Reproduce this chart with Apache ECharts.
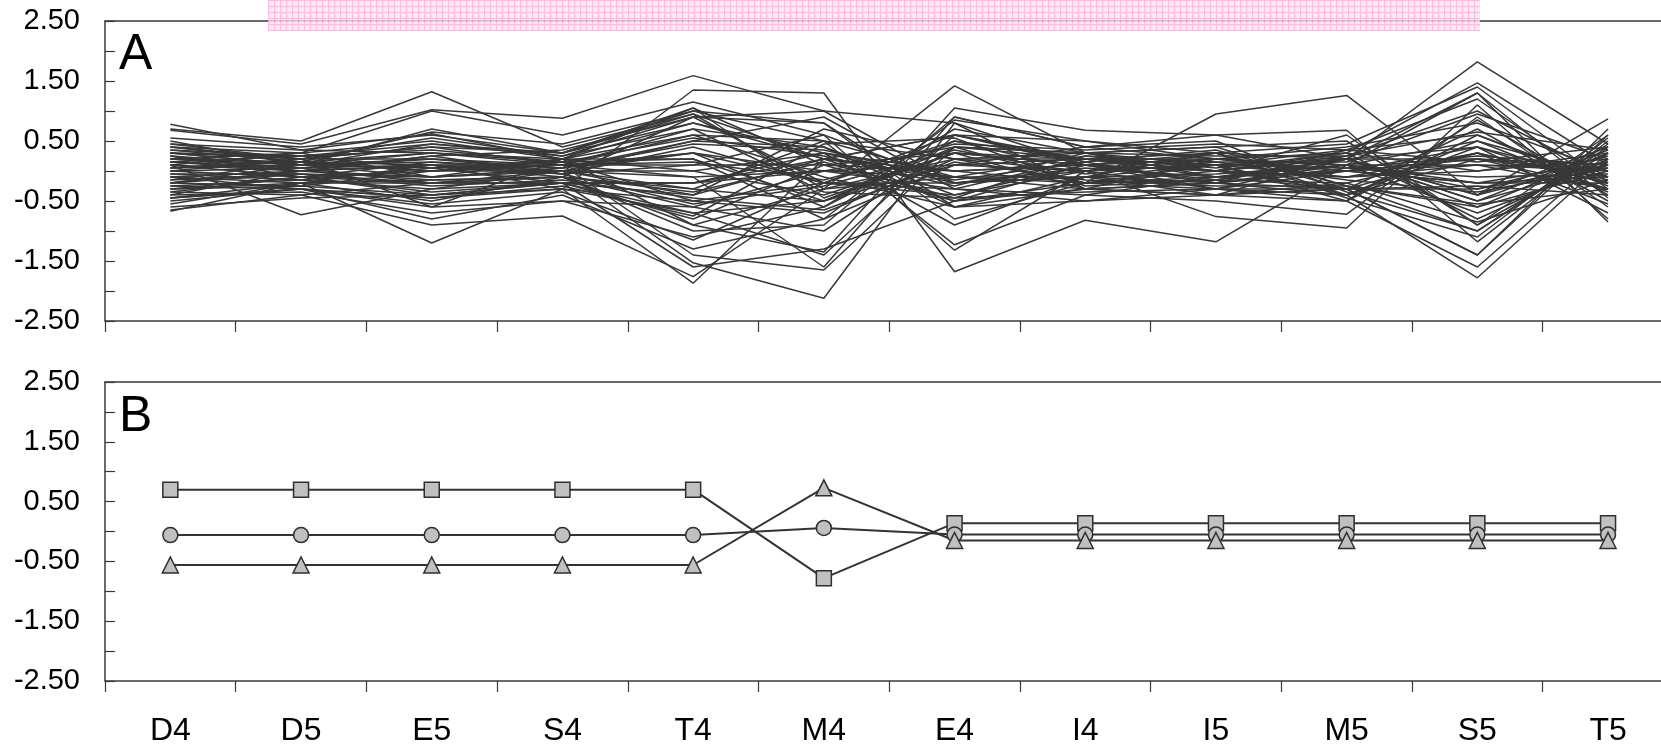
<!DOCTYPE html>
<html>
<head>
<meta charset="utf-8">
<script src="https://cdn.jsdelivr.net/npm/echarts@6/dist/echarts.min.js"></script>
<style>
html,body{margin:0;padding:0;background:#fff;overflow:hidden;width:1661px;height:748px;}
#chart{width:1720px;height:748px;}
</style>
</head>
<body>
<div id="chart"></div>
<script>
// ---- data ----
const categories = ['D4','D5','E5','S4','T4','M4','E4','I4','I5','M5','S5','T5'];
const yTicks = [-2.5, -1.5, -0.5, 0.5, 1.5, 2.5];

// Panel A: individual profiles (values read/estimated from the picture)
const a01 = [0.78, 0.35, 0.62, 0.20, 1.05, -0.45, 0.30, 0.10, -0.15, 0.20, 1.82, 0.45];
const a02 = [0.70, 0.50, 1.32, 0.40, 0.95, -0.30, -0.10, 0.25, 0.05, 0.30, 1.47, 0.10];
const a03 = [0.68, 0.45, 1.02, 0.88, 1.59, 1.00, -0.20, -0.10, 0.30, 0.45, 1.40, -0.20];
const a04 = [-0.67, -0.20, -1.20, -0.30, -1.87, 0.20, 0.60, 0.10, -0.30, -0.40, -1.78, 0.20];
const a05 = [-0.65, -0.40, -0.90, -0.75, -1.76, -0.30, 1.42, 0.30, 0.10, -0.50, -1.60, 0.30];
const a06 = [0.10, -0.73, -0.30, 0.00, -1.53, -2.12, 0.80, 0.10, -0.20, -0.30, -1.40, 0.60];
const a07 = [0.30, 0.20, 0.40, 0.10, -1.40, -1.65, 0.40, -0.20, 0.95, 1.26, -0.40, 0.87];
const a08 = [-0.20, 0.00, 0.10, -0.30, 1.35, 1.30, -1.68, -0.82, -1.18, 0.10, 1.30, -0.85];
const a09 = [0.40, 0.30, 1.00, 0.60, 1.15, 0.60, -1.32, 0.00, -0.76, -0.95, 1.10, -0.80];
const a10 = [-0.50, -0.30, -0.60, 0.20, -0.90, -1.35, 1.05, 0.68, 0.60, 0.68, -1.18, 0.50];
const a11 = [0.20, 0.10, 0.70, 0.30, 1.00, 0.50, -1.23, -0.40, -0.50, -0.72, 0.90, -0.60];
const a12 = [-0.30, -0.20, -0.50, -0.10, -1.00, -0.90, 0.90, 0.40, 0.50, -0.35, -1.00, 0.40];
const a13 = [0.55, 0.40, 0.60, 0.30, 0.95, 0.20, -0.50, -0.30, -0.20, 0.35, 1.20, -0.30];
const a14 = [0.45, 0.20, 0.55, 0.25, 0.90, -0.20, -0.40, 0.10, 0.00, 0.25, 1.00, -0.10];
const a15 = [0.35, 0.15, 0.65, 0.45, 1.00, 0.80, -0.80, -0.20, -0.30, -0.50, 0.85, -0.40];
const a16 = [-0.40, -0.35, -0.70, -0.50, -1.10, -0.60, 0.70, 0.30, 0.40, 0.50, -0.90, 0.30];
const a17 = [-0.45, -0.30, -0.80, -0.40, -1.30, -0.80, 0.85, 0.50, 0.30, -0.45, -1.10, 0.55];
const a18 = [-0.35, -0.10, -0.40, -0.20, -0.70, -1.40, 0.60, 0.20, 0.20, 0.30, -0.80, 0.20];
const a19 = [0.25, 0.10, 0.30, 0.10, 0.70, 0.40, -0.60, -0.30, -0.40, -0.30, 0.70, -0.50];
const a20 = [0.15, 0.05, 0.20, 0.05, 0.50, 0.90, -0.30, -0.50, -0.30, 0.20, 0.40, -0.30];
const a21 = [-0.10, 0.00, -0.10, 0.00, -0.40, 0.70, 0.20, -0.20, 0.00, -0.10, 0.30, -0.20];
const a22 = [0.05, 0.10, 0.15, 0.05, 0.30, -0.60, 0.50, 0.20, 0.10, 0.20, -0.50, 0.10];
const a23 = [-0.05, -0.05, -0.20, -0.10, -0.60, -1.00, 0.40, 0.30, 0.40, -0.25, -0.60, 0.30];
const a24 = [0.20, 0.30, 0.50, 0.20, 0.80, 0.30, -0.90, -0.10, -0.40, -0.50, 0.60, -0.20];
const a25 = [0.30, 0.25, 0.35, 0.15, 0.20, -0.50, 0.10, 0.40, 0.20, 0.00, 0.20, 0.00];
const a26 = [-0.25, -0.15, -0.30, -0.20, -0.20, 0.30, -0.20, -0.10, -0.20, 0.10, -0.30, 0.10];
const a27 = [0.10, -0.10, 0.00, 0.10, 0.10, 0.10, 0.00, 0.10, 0.00, -0.10, 0.10, 0.05];
const a28 = [-0.15, -0.05, -0.10, 0.00, -0.10, 0.00, 0.10, 0.00, 0.10, 0.05, -0.10, -0.05];
const a29 = [0.00, 0.05, 0.10, -0.05, 0.40, -0.20, -0.20, 0.05, -0.10, 0.10, 0.50, -0.10];
const a30 = [0.15, 0.00, -0.15, -0.10, -0.30, -0.50, 0.30, 0.10, 0.20, 0.00, -0.20, 0.15];
const a31 = [-0.20, 0.10, 0.20, 0.10, 0.60, 0.50, -0.10, -0.20, -0.10, -0.30, 0.30, -0.20];
const a32 = [0.25, -0.10, -0.20, -0.20, -0.80, 0.10, 0.30, 0.20, 0.30, 0.20, -0.50, 0.35];
const a33 = [-0.30, -0.25, -0.40, -0.30, -0.50, -0.20, 0.50, 0.00, 0.20, 0.10, -0.70, 0.10];
const a34 = [0.40, 0.20, 0.20, 0.00, 0.30, 0.00, -0.30, 0.20, -0.10, 0.00, 0.40, -0.15];
const a35 = [0.05, 0.20, 0.40, 0.30, 0.80, 0.20, -0.10, -0.30, 0.20, 0.40, 0.80, 0.00];
const a36 = [-0.10, -0.20, -0.20, -0.10, -0.90, -0.30, 0.20, 0.30, -0.10, 0.20, -0.40, 0.40];
const a37 = [0.20, 0.15, 0.00, 0.20, 0.00, 0.30, 0.00, -0.20, 0.10, -0.10, 0.00, 0.20];
const a38 = [-0.40, 0.00, 0.10, 0.00, -0.30, 0.50, 0.20, 0.00, -0.30, 0.00, 0.10, -0.30];
const a39 = [0.10, 0.30, -0.10, 0.20, 0.20, -0.80, 0.10, 0.20, 0.00, 0.30, 0.00, 0.30];
const a40 = [-0.05, -0.15, 0.05, -0.20, -0.20, 0.00, -0.10, -0.10, -0.05, 0.10, -0.20, -0.10];
const a41 = [0.30, 0.10, 0.45, 0.30, 1.05, 0.10, -0.50, -0.20, -0.15, 0.20, 1.30, -0.45];
const a42 = [-0.25, -0.30, -0.55, -0.35, -1.15, -0.20, 0.60, 0.15, 0.35, -0.25, -1.00, 0.45];
const a43 = [0.50, 0.10, 0.05, 0.10, -0.10, -1.60, 0.90, 0.40, 0.60, 0.20, -0.60, 0.00];
const a44 = [-0.55, -0.20, 0.10, -0.10, 0.90, 0.80, -0.60, -0.50, -0.40, -0.20, 0.30, -0.55];
const a45 = [0.00, 0.20, -0.60, -0.50, -0.60, 0.00, 0.40, 0.30, 0.00, 0.60, -0.90, 0.60];
const a46 = [0.25, 0.00, 0.25, -0.05, 0.10, 0.60, -0.20, 0.00, 0.30, -0.40, 0.20, -0.30];
const a47 = [-0.15, 0.15, 0.00, 0.00, 0.00, -0.40, 0.30, -0.30, -0.40, 0.20, 0.20, 0.10];
const a48 = [0.35, 0.25, 0.05, 0.15, -0.50, -0.70, 0.20, 0.20, 0.00, -0.30, -0.30, 0.25];
const a49 = [-0.35, -0.40, -0.20, 0.00, 0.50, 0.40, -0.40, 0.00, 0.10, -0.40, 0.50, -0.35];
const a50 = [0.00, -0.10, -0.35, -0.20, -0.40, 0.20, 0.00, 0.10, -0.20, 0.00, -0.20, -0.20];
const a51 = [0.45, 0.35, 0.30, 0.20, 0.60, -0.10, -0.60, -0.10, 0.10, 0.35, 0.60, -0.25];
const a52 = [-0.45, -0.30, -0.45, -0.30, -0.70, -0.50, 0.40, 0.20, 0.00, 0.20, -0.40, 0.15];
const a53 = [0.10, 0.00, 0.25, 0.35, 0.90, 1.00, 0.80, -0.30, -0.20, -0.40, 0.40, -0.70];
const a54 = [-0.60, -0.45, -0.40, -0.20, -1.60, -1.30, -0.50, 0.10, 0.30, -0.30, -1.40, 0.70];
const a55 = [0.20, 0.05, -0.20, -0.20, -0.20, 0.20, 0.60, 0.50, 0.20, 0.10, 0.10, 0.00];
const a56 = [-0.20, -0.25, 0.00, 0.10, 0.30, -0.20, -0.30, -0.40, -0.10, 0.00, 0.20, -0.10];
const a57 = [0.30, 0.10, -0.10, 0.05, 0.45, 0.35, -0.15, 0.15, -0.20, 0.05, 0.25, 0.10];
const a58 = [-0.30, -0.10, 0.15, -0.05, -0.55, -0.25, 0.35, -0.05, 0.15, -0.15, -0.35, 0.05];
const a59 = [0.15, 0.25, 0.45, 0.25, 0.70, -0.35, -0.45, 0.25, 0.15, 0.15, 0.95, 0.20];
const a60 = [-0.10, -0.30, -0.45, -0.25, -0.75, 0.45, 0.55, -0.25, -0.15, -0.20, -0.85, -0.15];
const a61 = [0.05, 0.15, 0.30, 0.15, 0.55, 0.25, -0.25, 0.30, 0.25, 0.25, 0.65, 0.35];
const a62 = [-0.20, -0.05, -0.25, -0.15, -0.45, -0.65, 0.15, -0.15, -0.25, -0.25, -0.55, -0.30];
const a63 = [0.40, 0.15, 0.10, 0.10, 0.15, -0.15, 0.45, 0.35, 0.45, 0.35, 0.15, 0.40];
const a64 = [-0.45, -0.20, -0.15, -0.10, -0.35, 0.15, -0.45, -0.35, -0.30, -0.30, -0.25, -0.40];
const panelALines = [a01,a02,a03,a04,a05,a06,a07,a08,a09,a10,a11,a12,a13,a14,a15,a16,a17,a18,a19,a20,
  a21,a22,a23,a24,a25,a26,a27,a28,a29,a30,a31,a32,a33,a34,a35,a36,a37,a38,a39,a40,
  a41,a42,a43,a44,a45,a46,a47,a48,a49,a50,a51,a52,a53,a54,a55,a56,a57,a58,a59,a60,
  a61,a62,a63,a64];

// Panel B: three cluster profiles
const bSquare   = [0.70, 0.70, 0.70, 0.70, 0.70, -0.78, 0.14, 0.14, 0.14, 0.14, 0.14, 0.14];
const bCircle   = [-0.06, -0.06, -0.06, -0.06, -0.06, 0.06, -0.05, -0.05, -0.05, -0.05, -0.05, -0.05];
const bTriangle = [-0.56, -0.56, -0.56, -0.56, -0.56, 0.73, -0.15, -0.15, -0.15, -0.15, -0.15, -0.15];

// ---- chart ----
const FONT = '"Liberation Sans", Arial, sans-serif';
const AX = '#3a3a3a';
const chart = echarts.init(document.getElementById('chart'), null, {renderer: 'canvas'});

// pink checkered pattern
const pat = document.createElement('canvas');
pat.width = 6; pat.height = 6;
(function () {
  const c = pat.getContext('2d');
  c.fillStyle = 'rgba(253,218,238,0.9)'; c.fillRect(0, 0, 6, 6);
  c.fillStyle = 'rgba(250,170,212,0.85)';
  c.fillRect(0, 0, 1, 6); c.fillRect(0, 0, 6, 1);
  c.fillStyle = 'rgba(255,236,246,0.9)';
  c.fillRect(3, 3, 2, 2);
})();

function yAxisDef(gi) {
  return {
    type: 'value', gridIndex: gi, position: 'left', min: -2.5, max: 2.5, interval: 0.5,
    axisLine: {show: true, onZero: false, lineStyle: {color: AX, width: 1.5}},
    axisTick: {show: true, inside: true, length: 10, lineStyle: {color: AX, width: 1.2}},
    splitLine: {show: false},
    axisLabel: {
      margin: 25, fontSize: 29, color: '#000', fontFamily: FONT,
      formatter: function (v) {
        for (const t of yTicks) { if (Math.abs(v - t) < 1e-6) return t.toFixed(2); }
        return '';
      }
    }
  };
}
function xAxisDef(gi, showLabels) {
  return {
    type: 'category', gridIndex: gi, data: categories, boundaryGap: true,
    axisLine: {show: true, onZero: false, lineStyle: {color: AX, width: 1.5}},
    axisTick: {show: true, inside: false, length: 11, alignWithLabel: false, lineStyle: {color: AX, width: 1.2}},
    axisLabel: {show: showLabels, margin: 34, fontSize: 32, color: '#000', fontFamily: FONT, interval: 0},
    splitLine: {show: false}
  };
}
function xTopDef(gi) {
  return {
    type: 'category', gridIndex: gi, data: categories, position: 'top', boundaryGap: true,
    axisLine: {show: true, onZero: false, lineStyle: {color: AX, width: 1.5}},
    axisTick: {show: false}, axisLabel: {show: false}, splitLine: {show: false}
  };
}

const series = panelALines.map((d, i) => ({
  type: 'line', xAxisIndex: 0, yAxisIndex: 0, data: d,
  showSymbol: false, symbol: 'none', silent: true,
  lineStyle: {color: '#383838', width: 1.5}, z: 3
}));
const markerStyle = {color: '#c0c0c0', borderColor: '#2e2e2e', borderWidth: 1.5};
[[bSquare, 'rect', 15], [bCircle, 'circle', 15], [bTriangle, 'triangle', 16]].forEach(([d, sym, sz]) => {
  series.push({
    type: 'line', xAxisIndex: 1, yAxisIndex: 1, data: d,
    symbol: sym, symbolSize: sz, showSymbol: true, showAllSymbol: true,
    lineStyle: {color: '#333', width: 2}, itemStyle: markerStyle, silent: true, z: 3
  });
});

chart.setOption({
  animation: false,
  backgroundColor: '#fff',
  grid: [
    {left: 105, top: 21, width: 1568.4, height: 300, show: false, outerBoundsMode: 'none', containLabel: false},
    {left: 105, top: 382, width: 1568.4, height: 299, show: false, outerBoundsMode: 'none', containLabel: false}
  ],
  xAxis: [xAxisDef(0, false), xAxisDef(1, true), xTopDef(0), xTopDef(1)],
  yAxis: [yAxisDef(0), yAxisDef(1)],
  graphic: [
    {type: 'rect', left: 268, top: 0, shape: {width: 1212, height: 31}, style: {fill: {image: pat, repeat: 'repeat'}, opacity: 0.85}, z: 100, silent: true},
    {type: 'text', left: 119, top: 30, style: {text: 'A', font: '50px ' + FONT, fill: '#000'}, z: 100},
    {type: 'text', left: 119, top: 392, style: {text: 'B', font: '50px ' + FONT, fill: '#000'}, z: 100}
  ],
  series: series
});
</script>
</body>
</html>
